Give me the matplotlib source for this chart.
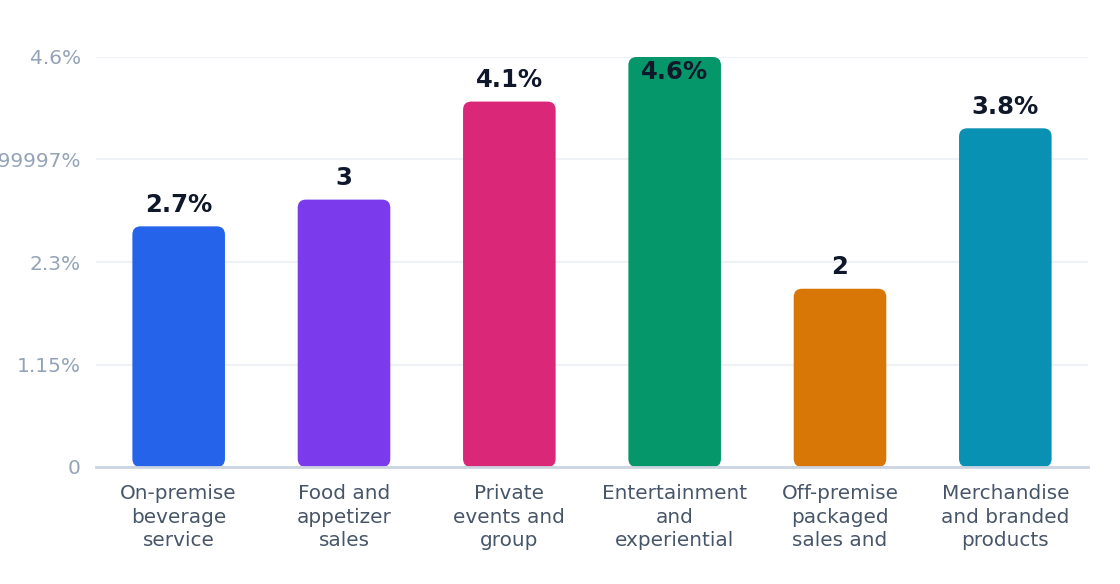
import matplotlib
matplotlib.use('Agg')
import matplotlib.pyplot as plt
from matplotlib.patches import FancyBboxPatch

plt.rcParams['font.family'] = ['DejaVu Sans']

# ---data---
categories = ['On-premise\nbeverage\nservice', 'Food and\nappetizer\nsales',
              'Private\nevents and\ngroup', 'Entertainment\nand\nexperiential',
              'Off-premise\npackaged\nsales and', 'Merchandise\nand branded\nproducts']
values = [2.7, 3, 4.1, 4.6, 2, 3.8]
value_labels = ['2.7%', '3', '4.1%', '4.6%', '2', '3.8%']
colors = ['#2563eb', '#7c3aed', '#db2777', '#059669', '#d97706', '#0891b2']
y_ticks = [0, 1.15, 2.3, 3.45, 4.6]
y_tick_labels = ['0', '1.15%', '2.3%', '3.4499999999999997%', '4.6%']

# ---figure---
fig = plt.figure(figsize=(11.2, 5.84), dpi=100)
ax = fig.add_axes([96 / 1120, 1 - 467 / 584, 992 / 1120, 410 / 584])
ax.set_xlim(-0.5, len(values) - 0.5)
ax.set_ylim(0, 4.6)

# aspect between data units in x and y (for rounded corners)
x_px = 992 / len(values)
y_px = 410 / 4.6
aspect = x_px / y_px

bars = ax.bar(range(len(values)), values, width=0.56, color=colors)
for b in bars:
    b.set_visible(False)
    patch = FancyBboxPatch((b.get_x(), 0), b.get_width(), b.get_height(),
                           boxstyle='round,pad=0,rounding_size=0.05',
                           mutation_aspect=aspect, facecolor=b.get_facecolor(),
                           edgecolor='none', zorder=2, clip_on=False)
    ax.add_patch(patch)

# value labels above bars (inside when bar reaches the top)
for i, (v, lab) in enumerate(zip(values, value_labels)):
    off = -11 if v >= ax.get_ylim()[1] - 0.1 else 15.5
    ax.annotate(lab, (i, v), xytext=(0, off), textcoords='offset points',
                ha='center', va='center', fontsize=17.5, fontweight='bold',
                color='#0f172a', zorder=3)

# axes styling
ax.set_yticks(y_ticks)
ax.set_yticklabels(y_tick_labels)
ax.set_xticks(range(len(values)))
ax.set_xticklabels(categories, linespacing=1.3)
ax.tick_params(axis='y', length=0, pad=11, labelsize=14.5, labelcolor='#94a3b8')
ax.tick_params(axis='x', length=0, pad=12.5, labelsize=14.4, labelcolor='#475569')
ax.grid(axis='y', color='#eef2f6', linewidth=1.5, zorder=0)
ax.set_axisbelow(True)
for s in ['top', 'right', 'left']:
    ax.spines[s].set_visible(False)
ax.spines['bottom'].set_color('#cbd5e1')
ax.spines['bottom'].set_linewidth(2)
ax.spines['bottom'].set_zorder(4)

fig.savefig('out.png', dpi=100, facecolor='white')
